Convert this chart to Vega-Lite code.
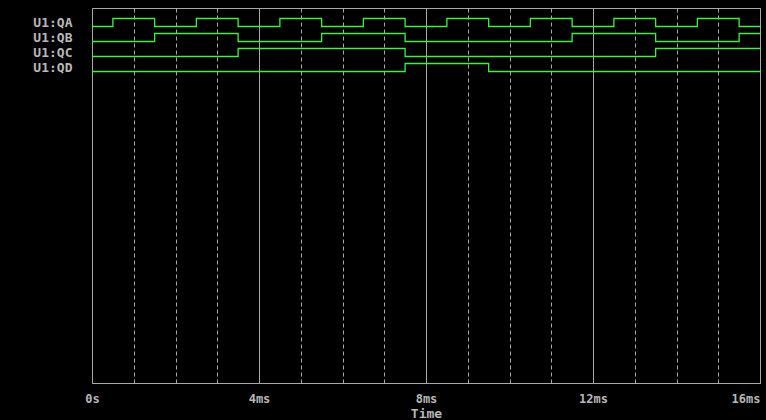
{
  "$schema": "https://vega.github.io/schema/vega-lite/v6.json",
  "autosize": {"type": "none"},
  "width": 668,
  "height": 375,
  "padding": {"left": 92, "top": 8, "right": 6, "bottom": 37},
  "background": "#000000",
  "config": {
    "view": {"stroke": "#a8a8a8", "strokeWidth": 1},
    "axis": {"labelFont": "DejaVu Sans Mono", "titleFont": "DejaVu Sans Mono", "labelColor": "#b8b8b8", "titleColor": "#b8b8b8", "labelFontWeight": "bold", "titleFontWeight": "bold"}
  },
  "data": {
    "values": [
      {"signal": "U1:QA", "t": 0, "state": 0},
      {"signal": "U1:QA", "t": 0.5, "state": 1},
      {"signal": "U1:QA", "t": 1.5, "state": 0},
      {"signal": "U1:QA", "t": 2.5, "state": 1},
      {"signal": "U1:QA", "t": 3.5, "state": 0},
      {"signal": "U1:QA", "t": 4.5, "state": 1},
      {"signal": "U1:QA", "t": 5.5, "state": 0},
      {"signal": "U1:QA", "t": 6.5, "state": 1},
      {"signal": "U1:QA", "t": 7.5, "state": 0},
      {"signal": "U1:QA", "t": 8.5, "state": 1},
      {"signal": "U1:QA", "t": 9.5, "state": 0},
      {"signal": "U1:QA", "t": 10.5, "state": 1},
      {"signal": "U1:QA", "t": 11.5, "state": 0},
      {"signal": "U1:QA", "t": 12.5, "state": 1},
      {"signal": "U1:QA", "t": 13.5, "state": 0},
      {"signal": "U1:QA", "t": 14.5, "state": 1},
      {"signal": "U1:QA", "t": 15.5, "state": 0},
      {"signal": "U1:QA", "t": 16, "state": 0},
      {"signal": "U1:QB", "t": 0, "state": 0},
      {"signal": "U1:QB", "t": 1.5, "state": 1},
      {"signal": "U1:QB", "t": 3.5, "state": 0},
      {"signal": "U1:QB", "t": 5.5, "state": 1},
      {"signal": "U1:QB", "t": 7.5, "state": 0},
      {"signal": "U1:QB", "t": 11.5, "state": 1},
      {"signal": "U1:QB", "t": 13.5, "state": 0},
      {"signal": "U1:QB", "t": 15.5, "state": 1},
      {"signal": "U1:QB", "t": 16, "state": 1},
      {"signal": "U1:QC", "t": 0, "state": 0},
      {"signal": "U1:QC", "t": 3.5, "state": 1},
      {"signal": "U1:QC", "t": 7.5, "state": 0},
      {"signal": "U1:QC", "t": 13.5, "state": 1},
      {"signal": "U1:QC", "t": 16, "state": 1},
      {"signal": "U1:QD", "t": 0, "state": 0},
      {"signal": "U1:QD", "t": 7.5, "state": 1},
      {"signal": "U1:QD", "t": 9.5, "state": 0},
      {"signal": "U1:QD", "t": 16, "state": 0}
    ]
  },
  "encoding": {
    "x": {
      "field": "t", "type": "quantitative",
      "scale": {"domain": [0, 16], "nice": false, "zero": false},
      "axis": {
        "values": [0,1,2,3,4,5,6,7,8,9,10,11,12,13,14,15,16],
        "labelExpr": "datum.value == 0 ? '0s' : (datum.value % 4 == 0 ? datum.value + 'ms' : '')",
        "labelAlign": {"condition": {"test": "datum.value == 16", "value": "right"}, "value": "center"},
        "labelFontSize": 12, "labelPadding": 10,
        "ticks": false,
        "domainColor": "#a8a8a8",
        "grid": true, "gridColor": "#a8a8a8", "gridOpacity": 1,
        "gridDash": {"condition": {"test": "datum.value % 4 == 0", "value": []}, "value": [4, 3]},
        "title": "Time", "titleFontSize": 13, "titlePadding": 3
      }
    }
  },
  "layer": [
    {
      "mark": {"type": "point", "opacity": 0},
      "encoding": {
        "y": {
          "field": "signal", "type": "nominal",
          "scale": {"type": "point", "padding": 1, "domain": ["U1:QA", "U1:QB", "U1:QC", "U1:QD", "d05", "d06", "d07", "d08", "d09", "d10", "d11", "d12", "d13", "d14", "d15", "d16", "d17", "d18", "d19", "d20", "d21", "d22", "d23", "d24"]},
          "axis": {"title": null, "domain": false, "ticks": false, "grid": false, "labelFontSize": 13, "labelPadding": 20, "labelOffset": -1, "labelExpr": "indexof(datum.label, 'U1') == 0 ? datum.label : ''"}
        }
      }
    },
    {
      "transform": [{"filter": "datum.signal == 'U1:QA'"}],
      "mark": {"type": "line", "interpolate": "step-after", "color": "#40f040", "strokeWidth": 1.3},
      "encoding": {"y": {"field": "state", "type": "quantitative", "scale": {"domain": [-44.5625, 2.3125], "nice": false, "zero": false}, "axis": null}}
    },
    {
      "transform": [{"filter": "datum.signal == 'U1:QB'"}],
      "mark": {"type": "line", "interpolate": "step-after", "color": "#40f040", "strokeWidth": 1.3},
      "encoding": {"y": {"field": "state", "type": "quantitative", "scale": {"domain": [-42.6875, 4.1875], "nice": false, "zero": false}, "axis": null}}
    },
    {
      "transform": [{"filter": "datum.signal == 'U1:QC'"}],
      "mark": {"type": "line", "interpolate": "step-after", "color": "#40f040", "strokeWidth": 1.3},
      "encoding": {"y": {"field": "state", "type": "quantitative", "scale": {"domain": [-40.8125, 6.0625], "nice": false, "zero": false}, "axis": null}}
    },
    {
      "transform": [{"filter": "datum.signal == 'U1:QD'"}],
      "mark": {"type": "line", "interpolate": "step-after", "color": "#40f040", "strokeWidth": 1.3},
      "encoding": {"y": {"field": "state", "type": "quantitative", "scale": {"domain": [-38.9375, 7.9375], "nice": false, "zero": false}, "axis": null}}
    }
  ],
  "resolve": {"scale": {"y": "independent"}, "axis": {"y": "independent"}}
}
